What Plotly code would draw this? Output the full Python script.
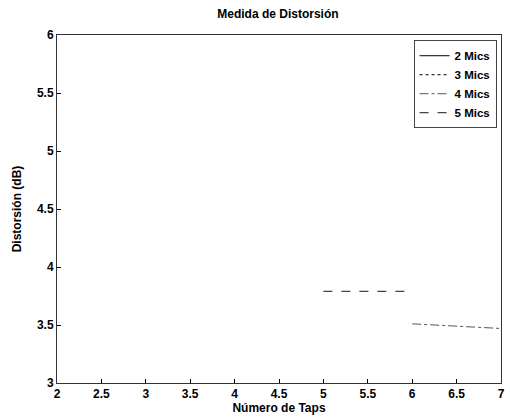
import plotly.graph_objects as go

# Series values read from the (faded) scan; only visible parts
x_5mics = [5, 6]
y_5mics = [3.79, 3.79]
x_4mics = [6, 6.5, 7]
y_4mics = [3.51, 3.49, 3.47]
x_3mics = [2, 7]
y_3mics = [None, None]
x_2mics = [2, 7]
y_2mics = [None, None]

x_ticks = [2, 2.5, 3, 3.5, 4, 4.5, 5, 5.5, 6, 6.5, 7]
y_ticks = [3, 3.5, 4, 4.5, 5, 5.5, 6]

FONT = "Liberation Sans, Arial, sans-serif"
BOLD = dict(family=FONT, size=12, color="black", weight="bold")
LEG = dict(family=FONT, size=11.5, color="black", weight="bold")

fig = go.Figure()
fig.add_trace(go.Scatter(x=x_2mics, y=y_2mics, name="2 Mics", mode="lines",
                         line=dict(color="black", width=1, dash="solid")))
fig.add_trace(go.Scatter(x=x_3mics, y=y_3mics, name="3 Mics", mode="lines",
                         line=dict(color="black", width=1, dash="dot")))
fig.add_trace(go.Scatter(x=x_4mics, y=y_4mics, name="4 Mics", mode="lines",
                         line=dict(color="#555555", width=1, dash="dashdot")))
fig.add_trace(go.Scatter(x=x_5mics, y=y_5mics, name="5 Mics", mode="lines",
                         line=dict(color="#444444", width=1.2, dash="dash")))

fig.update_layout(
    width=510, height=417,
    paper_bgcolor="white", plot_bgcolor="white",
    margin=dict(l=57, r=5, t=35, b=34),
    font=BOLD,
    title=dict(text="Medida de Distorsión", x=0.545, xanchor="center",
               y=0.976, yanchor="top", font=BOLD),
    showlegend=True,
    legend=dict(x=0.99, y=0.985, xanchor="right", yanchor="top",
                bordercolor="#444444", borderwidth=1, bgcolor="white",
                font=LEG, tracegroupgap=0, itemwidth=30),
)
fig.update_xaxes(range=[2, 7], tickvals=x_ticks,
                 ticktext=[f"{v:g}" for v in x_ticks],
                 ticks="inside", ticklen=4, tickcolor="black",
                 showline=True, linecolor="#333333", linewidth=1, mirror=True,
                 showgrid=False, zeroline=False, tickfont=BOLD,
                 title=dict(text="Número de Taps", standoff=1, font=BOLD))
fig.update_yaxes(range=[3, 6], tickvals=y_ticks,
                 ticktext=[f"{v:g}" for v in y_ticks],
                 ticks="inside", ticklen=4, tickcolor="black",
                 showline=True, linecolor="#333333", linewidth=1, mirror=True,
                 showgrid=False, zeroline=False, tickfont=BOLD,
                 title=dict(text="Distorsión (dB)", standoff=12, font=BOLD))

fig.write_html("out.html", config={"displayModeBar": False},
               post_script="document.body.style.margin='0';document.body.style.overflow='hidden';")
